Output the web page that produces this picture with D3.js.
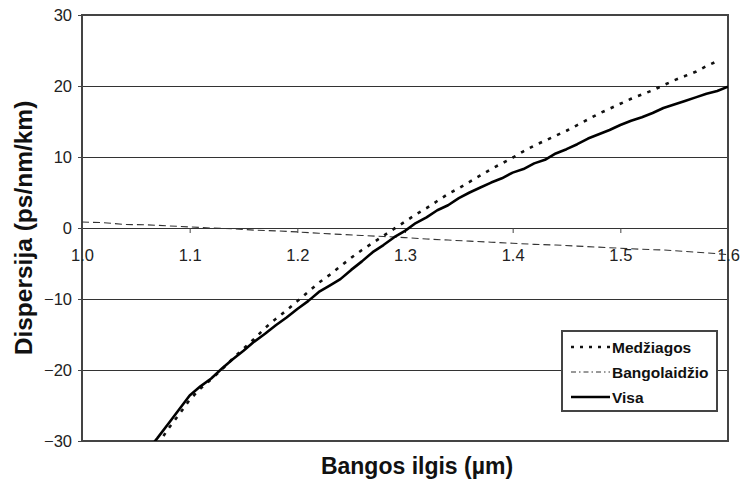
<!DOCTYPE html>
<html>
<head>
<meta charset="utf-8">
<script src="https://cdn.jsdelivr.net/npm/d3@7"></script>
<style>
  html, body { margin: 0; padding: 0; background: #fff; }
  svg { display: block; font-family: "Liberation Sans", Arial, Helvetica, sans-serif; }
</style>
</head>
<body>
<svg id="chart" width="740" height="480"></svg>
<script>
// Wavelength grid (µm) for the material and total dispersion curves
const lambdaMat = [1.06,1.07,1.08,1.09,1.10,1.11,1.12,1.13,1.14,1.15,1.16,1.17,1.18,1.19,1.20,1.21,1.22,1.23,1.24,1.25,1.26,1.27,1.28,1.29,1.30,1.31,1.32,1.33,1.34,1.35,1.36,1.37,1.38,1.39,1.40,1.41,1.42,1.43,1.44,1.45,1.46,1.47,1.48,1.49,1.50,1.51,1.52,1.53,1.54,1.55,1.56,1.57,1.58,1.59];
const materialD = [-32.8,-30.6,-28.3,-26.3,-24.2,-22.6,-21.3,-19.9,-18.4,-17.0,-15.6,-14.1,-12.8,-11.6,-10.3,-9.0,-7.7,-6.6,-5.4,-4.2,-3.1,-2.1,-1.1,-0.1,0.9,1.9,2.8,3.8,4.8,5.6,6.5,7.4,8.3,9.1,9.9,10.8,11.6,12.3,13.0,13.7,14.5,15.3,16.1,16.8,17.5,18.2,18.8,19.4,20.1,20.8,21.4,22.0,22.8,23.5];

const lambdaTot = [1.06,1.07,1.08,1.09,1.10,1.11,1.12,1.13,1.14,1.15,1.16,1.17,1.18,1.19,1.20,1.21,1.22,1.23,1.24,1.25,1.26,1.27,1.28,1.29,1.30,1.31,1.32,1.33,1.34,1.35,1.36,1.37,1.38,1.39,1.40,1.41,1.42,1.43,1.44,1.45,1.46,1.47,1.48,1.49,1.50,1.51,1.52,1.53,1.54,1.55,1.56,1.57,1.58,1.59,1.60];
const totalD = [-31.5,-29.6,-27.6,-25.6,-23.6,-22.3,-21.2,-19.8,-18.5,-17.3,-16.0,-14.9,-13.7,-12.6,-11.4,-10.3,-9.0,-8.1,-7.2,-5.9,-4.7,-3.4,-2.4,-1.3,-0.4,0.7,1.5,2.5,3.2,4.2,5.0,5.7,6.4,7.0,7.8,8.3,9.1,9.6,10.5,11.1,11.8,12.6,13.2,13.8,14.5,15.1,15.6,16.2,16.9,17.4,17.9,18.4,18.9,19.3,19.9];

// Waveguide dispersion, sampled every 0.02 µm
const lambdaWg = [1.00,1.02,1.04,1.06,1.08,1.10,1.12,1.14,1.16,1.18,1.20,1.22,1.24,1.26,1.28,1.30,1.32,1.34,1.36,1.38,1.40,1.42,1.44,1.46,1.48,1.50,1.52,1.54,1.56,1.58,1.60];
const waveguideD = [0.85,0.75,0.5,0.45,0.3,0.15,0.0,-0.1,-0.3,-0.4,-0.55,-0.75,-0.9,-1.05,-1.2,-1.35,-1.55,-1.7,-1.85,-2.0,-2.15,-2.3,-2.4,-2.55,-2.7,-2.85,-3.0,-3.1,-3.3,-3.5,-3.75];

const xTicks = [1.0, 1.1, 1.2, 1.3, 1.4, 1.5, 1.6];
const yTicks = [30, 20, 10, 0, -10, -20, -30];
const seriesNames = ["Medžiagos", "Bangolaidžio", "Visa"];
const xTitle = "Bangos ilgis (µm)";
const yTitle = "Dispersija (ps/nm/km)";

const svg = d3.select("#chart");
const L = 82, R = 728, T = 15, B = 441;

const x = d3.scaleLinear().domain([1.0, 1.6]).range([L, R]);
const y = d3.scaleLinear().domain([-30, 30]).range([B, T]);

// Horizontal gridlines
svg.append("g")
  .selectAll("line")
  .data(yTicks.filter(v => v !== 30 && v !== -30))
  .join("line")
  .attr("x1", L).attr("x2", R)
  .attr("y1", d => y(d)).attr("y2", d => y(d))
  .attr("stroke", "#333").attr("stroke-width", 1).attr("shape-rendering", "crispEdges");

// Plot frame
svg.append("rect")
  .attr("x", L).attr("y", T).attr("width", R - L).attr("height", B - T)
  .attr("fill", "none").attr("stroke", "#444").attr("stroke-width", 1.2)
  .attr("shape-rendering", "crispEdges");

// Y axis
const yAxis = d3.axisLeft(y).tickValues(yTicks).tickSize(4).tickPadding(6)
  .tickFormat(d => d < 0 ? "\u2212" + Math.abs(d) : String(d));
const gy = svg.append("g").attr("transform", `translate(${L},0)`).call(yAxis);
gy.select(".domain").remove();
gy.selectAll(".tick line").attr("stroke", "#444");
gy.selectAll(".tick text").attr("font-size", 16.5).attr("fill", "#222")
  .attr("font-family", "'Liberation Sans', Arial, sans-serif");

// X axis along the zero line
const xAxis = d3.axisBottom(x).tickValues(xTicks).tickSize(5).tickPadding(16)
  .tickFormat(d3.format(".1f"));
const gx = svg.append("g").attr("transform", `translate(0,${y(0)})`).call(xAxis);
gx.select(".domain").remove();
gx.selectAll(".tick line").attr("stroke", "#444");
gx.selectAll(".tick text").attr("font-size", 16.5).attr("fill", "#222")
  .attr("font-family", "'Liberation Sans', Arial, sans-serif");

// Clip curves to the plot area
svg.append("clipPath").attr("id", "plotClip")
  .append("rect").attr("x", L).attr("y", T).attr("width", R - L).attr("height", B - T);

const line = d3.line().x(d => x(d[0])).y(d => y(d[1])).curve(d3.curveLinear);
const curves = svg.append("g").attr("clip-path", "url(#plotClip)");

const styles = {
  "Medžiagos": { width: 2.6, dash: "3.5,6.5", color: "#111" },
  "Bangolaidžio": { width: 1.1, dash: "7,4", color: "#333" },
  "Visa": { width: 2.6, dash: null, color: "#000" }
};

const seriesData = [
  { name: "Bangolaidžio", pts: d3.zip(lambdaWg, waveguideD) },
  { name: "Medžiagos", pts: d3.zip(lambdaMat, materialD) },
  { name: "Visa", pts: d3.zip(lambdaTot, totalD) }
];

curves.selectAll("path")
  .data(seriesData)
  .join("path")
  .attr("d", d => line(d.pts))
  .attr("fill", "none")
  .attr("stroke", d => styles[d.name].color)
  .attr("stroke-width", d => styles[d.name].width)
  .attr("stroke-dasharray", d => styles[d.name].dash)
  .attr("stroke-linejoin", "round");

// Legend
const lg = svg.append("g").attr("transform", "translate(562,331)");
lg.append("rect").attr("width", 155).attr("height", 80)
  .attr("fill", "#fff").attr("stroke", "#444").attr("stroke-width", 1.2)
  .attr("shape-rendering", "crispEdges");
const items = lg.selectAll("g.item").data(seriesNames).join("g")
  .attr("class", "item")
  .attr("transform", (d, i) => `translate(0,${16 + i * 25})`);
items.append("line")
  .attr("x1", 9).attr("x2", 48).attr("y1", 0).attr("y2", 0)
  .attr("stroke", d => styles[d].color)
  .attr("stroke-width", d => d === "Bangolaidžio" ? 1 : 2.6)
  .attr("stroke-dasharray", d => d === "Medžiagos" ? "3,6" : (d === "Bangolaidžio" ? "5,3,1.5,3" : null));
items.append("text")
  .attr("x", 50).attr("y", 5.5)
  .attr("font-size", 15.5).attr("font-weight", "bold").attr("fill", "#111")
  .text(d => d);

// Axis titles
svg.append("text")
  .attr("x", 417).attr("y", 474)
  .attr("text-anchor", "middle")
  .attr("font-size", 23).attr("font-weight", "bold").attr("fill", "#111")
  .text(xTitle);

svg.append("text")
  .attr("transform", "translate(32,228) rotate(-90)")
  .attr("text-anchor", "middle")
  .attr("font-size", 24.5).attr("font-weight", "bold").attr("fill", "#111")
  .text(yTitle);
</script>
</body>
</html>
